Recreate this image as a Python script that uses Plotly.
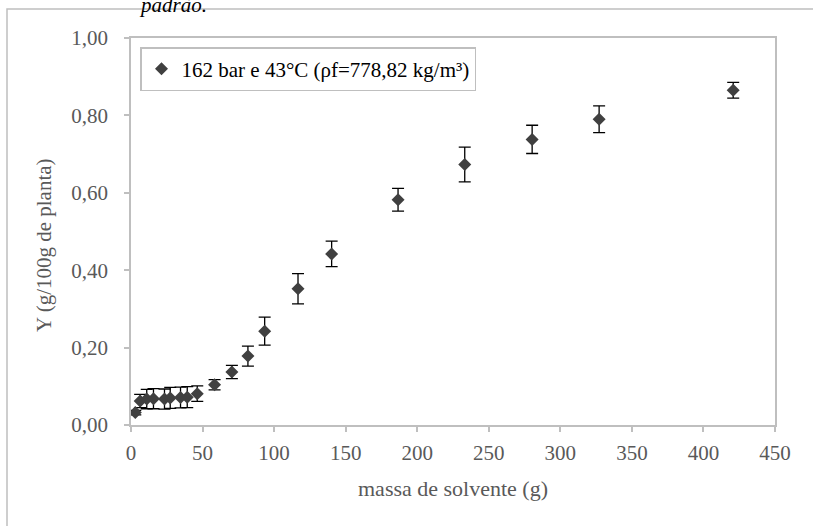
import plotly.graph_objects as go

# data
massa = [3, 6.4, 11, 15.7, 23.4, 27.4, 34.6, 39.3, 46.3, 58.4, 70.5, 81.7,
         93.4, 116.7, 140.2, 186.6, 233.2, 280.3, 327.1, 420.8]
rend = [0.032, 0.062, 0.067, 0.068, 0.067, 0.070, 0.071, 0.072, 0.081, 0.104,
        0.137, 0.178, 0.2425, 0.352, 0.442, 0.582, 0.673, 0.738, 0.790, 0.865]
erro = [0.006, 0.017, 0.025, 0.026, 0.026, 0.027, 0.027, 0.027, 0.020, 0.013,
        0.017, 0.026, 0.036, 0.039, 0.033, 0.0295, 0.045, 0.0365, 0.0345, 0.0205]
serie = "162 bar e 43°C (ρf=778,82 kg/m³)"
x_ticks = [0, 50, 100, 150, 200, 250, 300, 350, 400, 450]
y_ticks = [0, 0.2, 0.4, 0.6, 0.8, 1.0]

FONT = "Liberation Serif"
GREY = "#595959"
LINE = "#BFBFBF"

W, H = 813, 526
L, R, T, B = 131, 38, 38, 101
pw, ph = W - L - R, H - T - B


def px_x(p):
    return (p - L) / pw


def px_y(p):
    return (H - B - p) / ph


fig = go.Figure()
fig.add_trace(go.Scatter(
    x=massa, y=rend, mode="markers", name=serie,
    marker=dict(symbol="diamond", size=10, color="#404040"),
    error_y=dict(type="data", array=erro, visible=True, color="#000000",
                 thickness=1.3, width=6),
))

fig.update_layout(
    width=W, height=H,
    margin=dict(l=L, r=R, t=T, b=B),
    paper_bgcolor="white", plot_bgcolor="white",
    separators=",.",
    font=dict(family=FONT, size=21, color=GREY),
    showlegend=True,
    legend=dict(
        x=px_x(140), y=px_y(47), xanchor="left", yanchor="top",
        bgcolor="white", bordercolor=LINE, borderwidth=1.5,
        font=dict(family=FONT, size=21, color="#000000"),
        itemwidth=30,
    ),
    xaxis=dict(
        range=[0, 450], tickvals=x_ticks, showgrid=False, zeroline=False,
        showline=True, linecolor=LINE, linewidth=1.5, mirror=True,
        ticks="outside", ticklen=5, tickcolor=LINE, tickwidth=1.5,
        tickfont=dict(family=FONT, size=21, color=GREY),
        ticklabelstandoff=3,
    ),
    yaxis=dict(
        range=[0, 1.0], tickvals=y_ticks, tickformat=".2f", showgrid=False,
        zeroline=False, showline=True, linecolor=LINE, linewidth=1.5,
        mirror=True, ticks="outside", ticklen=5, tickcolor=LINE, tickwidth=1.5,
        tickfont=dict(family=FONT, size=21, color=GREY),
        ticklabelstandoff=12,
    ),
    annotations=[
        dict(text="massa de solvente (g)", xref="paper", yref="paper",
             x=0.5, y=px_y(488), xanchor="center", yanchor="middle",
             showarrow=False, font=dict(family=FONT, size=22, color=GREY)),
        dict(text="Y (g/100g de planta)", xref="paper", yref="paper",
             x=px_x(44), y=px_y(245), xanchor="center", yanchor="middle",
             textangle=-90, showarrow=False,
             font=dict(family=FONT, size=21, color=GREY)),
        dict(text="<i>padrão.</i>", xref="paper", yref="paper",
             x=px_x(137), y=px_y(19), xanchor="left", yanchor="bottom",
             showarrow=False, font=dict(family=FONT, size=21, color="#000000")),
    ],
    shapes=[
        dict(type="rect", xref="paper", yref="paper",
             x0=px_x(7), x1=px_x(830), y0=px_y(545), y1=px_y(9),
             line=dict(color=LINE, width=1.5), fillcolor="rgba(0,0,0,0)",
             layer="below"),
    ],
)

fig.write_html("out.html")
